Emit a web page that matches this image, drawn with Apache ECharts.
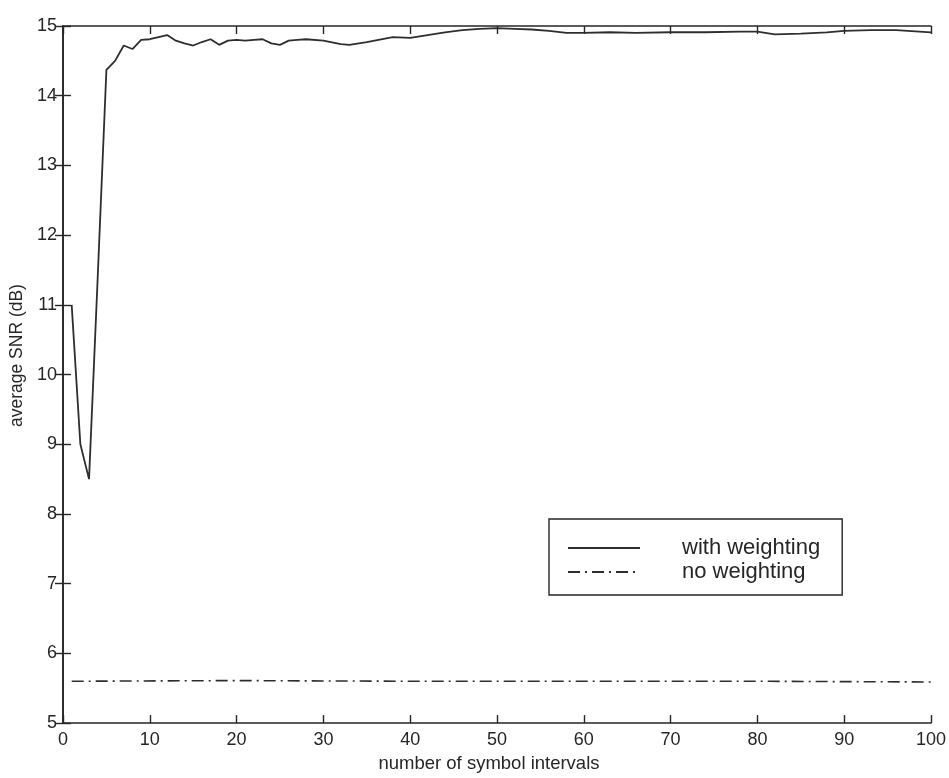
<!DOCTYPE html>
<html>
<head>
<meta charset="utf-8">
<script src="https://cdn.jsdelivr.net/npm/echarts@6/dist/echarts.min.js"></script>
<style>
html,body{margin:0;padding:0;background:#fff;}
#chart{width:949px;height:778px;}
</style>
</head>
<body>
<div id="chart"></div>
<script>
// x positions (number of symbol intervals) and average SNR (dB)
var xWith = [1,2,3,4,5,6,7,8,9,10,11,12,13,14,15,16,17,18,19,20,21,22,23,24,25,26,27,28,30,32,33,35,38,40,42,44,46,48,50,52,54,56,58,60,63,66,70,74,78,80,82,85,88,90,93,96,100];
var yWith = [11.0,9.0,8.5,11.4,14.37,14.5,14.72,14.67,14.8,14.81,14.84,14.87,14.79,14.75,14.72,14.77,14.81,14.73,14.79,14.8,14.79,14.8,14.81,14.75,14.73,14.79,14.8,14.81,14.79,14.74,14.73,14.77,14.84,14.83,14.87,14.91,14.94,14.96,14.97,14.96,14.95,14.93,14.9,14.9,14.91,14.9,14.91,14.91,14.92,14.92,14.88,14.89,14.91,14.93,14.94,14.94,14.91];
var xNo = [1,20,40,60,80,100];
var yNo = [5.6,5.61,5.6,5.6,5.6,5.59];
var xTicks = {min:0, max:100, interval:10};
var yTicks = {min:5, max:15, interval:1};
var seriesNames = ['with weighting','no weighting'];
var xTitle = 'number of symbol intervals';
var yTitle = 'average SNR (dB)';

function pairs(xs, ys){ return xs.map(function(x,i){ return [x, ys[i]]; }); }

var ink = '#262626';
var font = 'Liberation Sans, Arial, Helvetica, sans-serif';
var chart = echarts.init(document.getElementById('chart'));
var axisLine = {show:true, lineStyle:{color:ink, width:1.6}};
var tick = {show:true, inside:true, length:8, lineStyle:{color:ink, width:1.4}};
chart.setOption({
  animation:false,
  backgroundColor:'#fff',
  grid:{left:62, right:14, top:26, bottom:49, containLabel:false},
  legend:{
    orient:'vertical', left:549, top:519,
    data:seriesNames,
    itemWidth:72, itemHeight:14, itemGap:0,
    padding:[17,22,11,18],
    borderColor:ink, borderWidth:1.4, backgroundColor:'#fff',
    itemStyle:{opacity:0},
    textStyle:{fontFamily:font, fontSize:22, color:ink, lineHeight:24, padding:[0,0,0,37]}
  },
  xAxis:[
    {type:'value', min:xTicks.min, max:xTicks.max, interval:xTicks.interval, position:'bottom',
     name:xTitle, nameLocation:'middle', nameGap:28,
     nameTextStyle:{fontFamily:font, fontSize:18.5, color:ink, padding:[0,16,0,0]},
     axisLine:axisLine, axisTick:tick, splitLine:{show:false},
     axisLabel:{fontFamily:font, fontSize:18, color:ink, margin:8}},
    {type:'value', min:xTicks.min, max:xTicks.max, interval:xTicks.interval, position:'top',
     axisLine:axisLine, axisTick:tick, splitLine:{show:false}, axisLabel:{show:false}}
  ],
  yAxis:[
    {type:'value', min:yTicks.min, max:yTicks.max, interval:yTicks.interval, position:'left',
     name:yTitle, nameLocation:'middle', nameGap:37, nameRotate:90,
     nameTextStyle:{fontFamily:font, fontSize:17.5, color:ink, padding:[0,0,0,38]},
     axisLine:axisLine, axisTick:tick, splitLine:{show:false},
     axisLabel:{fontFamily:font, fontSize:18, color:ink, margin:6}},
    {type:'value', min:yTicks.min, max:yTicks.max, interval:yTicks.interval, position:'right',
     axisLine:axisLine, axisTick:tick, splitLine:{show:false}, axisLabel:{show:false}}
  ],
  series:[
    {name:seriesNames[0], type:'line', data:pairs(xWith,yWith), symbol:'none', showSymbol:false,
     xAxisIndex:0, yAxisIndex:0,
     lineStyle:{color:'#2e2e2e', width:1.8, type:'solid'}, itemStyle:{color:'#2e2e2e'}},
    {name:seriesNames[1], type:'line', data:pairs(xNo,yNo), symbol:'none', showSymbol:false,
     xAxisIndex:0, yAxisIndex:0,
     lineStyle:{color:'#2e2e2e', width:1.6, type:[12,5,2,5]}, itemStyle:{color:'#2e2e2e'}}
  ]
});
</script>
</body>
</html>
